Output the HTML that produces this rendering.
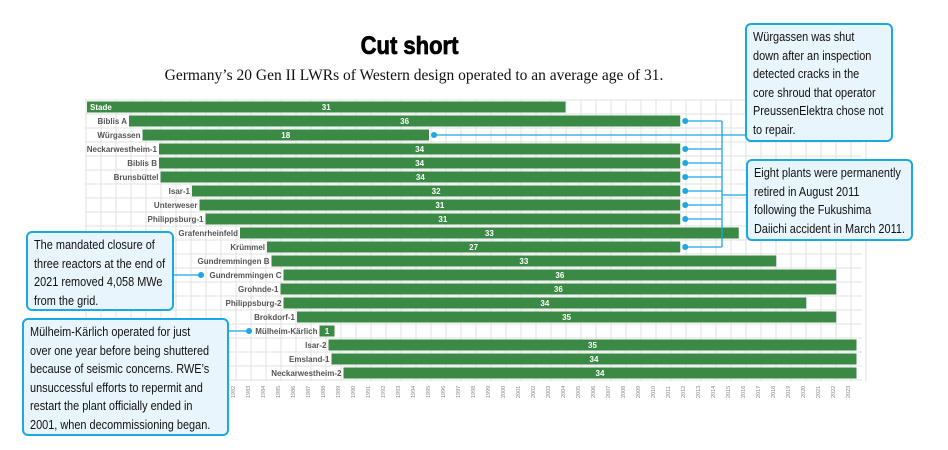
<!DOCTYPE html>
<html><head><meta charset="utf-8">
<style>
html,body{margin:0;padding:0;background:#fff;width:948px;height:450px;overflow:hidden;font-family:"Liberation Sans",sans-serif}
.box{position:absolute;background:#e8f5fc;border:2px solid #1ca8e3;border-radius:6px;box-sizing:border-box;color:#111;overflow:hidden}
.box .in{position:absolute;left:6px;top:3px;font-family:"Liberation Sans",sans-serif;font-size:13px;line-height:18.5px;white-space:nowrap;transform:scaleX(0.84);transform-origin:0 0}
</style></head><body>
<div style="position:absolute;left:0;width:820px;top:32px;text-align:center;"><span style="display:inline-block;font-family:'Liberation Sans',sans-serif;font-weight:900;font-size:25px;color:#000;transform:scaleX(0.88);-webkit-text-stroke:0.8px #000">Cut short</span></div>
<div style="position:absolute;left:0;width:828px;top:67px;text-align:center;font-family:'Liberation Serif',serif;font-size:15.5px;color:#111">Germany’s 20 Gen II LWRs of Western design operated to an average age of 31.</div>
<svg id="chart" width="948" height="450" style="position:absolute;left:0;top:0"></svg>
<div class="box" style="left:745px;top:23px;width:148px;height:119px"><div class="in">Würgassen was shut<br>down after an inspection<br>detected cracks in the<br>core shroud that operator<br>PreussenElektra chose not<br>to repair.</div></div>
<div class="box" style="left:746px;top:159px;width:167px;height:82px"><div class="in">Eight plants were permanently<br>retired in August 2011<br>following the Fukushima<br>Daiichi accident in March 2011.</div></div>
<div class="box" style="left:26px;top:231px;width:148px;height:80px"><div class="in">The mandated closure of<br>three reactors at the end of<br>2021 removed 4,058 MWe<br>from the grid.</div></div>
<div class="box" style="left:22px;top:318px;width:207px;height:118px"><div class="in">Mülheim-Kärlich operated for just<br>over one year before being shuttered<br>because of seismic concerns. RWE’s<br>unsuccessful efforts to repermit and<br>restart the plant officially ended in<br>2001, when decommissioning began.</div></div>
<script>
const plants=["Stade","Biblis A","Würgassen","Neckarwestheim-1","Biblis B","Brunsbüttel","Isar-1","Unterweser","Philippsburg-1","Grafenrheinfeld","Krümmel","Gundremmingen B","Gundremmingen C","Grohnde-1","Philippsburg-2","Brokdorf-1","Mülheim-Kärlich","Isar-2","Emsland-1","Neckarwestheim-2"];
const startYears=[1972.0,1974.8,1975.7,1976.8,1976.8,1976.9,1979.0,1979.5,1979.9,1982.2,1984.0,1984.3,1985.1,1984.9,1985.1,1986.0,1987.5,1988.1,1988.3,1989.1];
const endYears=[2003.9,2011.55,1994.8,2011.55,2011.55,2011.55,2011.55,2011.55,2011.55,2015.45,2011.55,2017.95,2021.95,2021.95,2019.95,2021.95,1988.5,2023.3,2023.3,2023.3];
const ages=[31,36,18,34,34,34,32,31,31,33,27,33,36,36,34,35,1,35,34,34];
const tickYears=[1982,1983,1984,1985,1986,1987,1988,1989,1990,1991,1992,1993,1994,1995,1996,1997,1998,1999,2000,2001,2002,2003,2004,2005,2006,2007,2008,2009,2010,2011,2012,2013,2014,2015,2016,2017,2018,2019,2020,2021,2022,2023];
const fukushimaRows=[1,3,4,5,6,7,8,10];

const NS="http://www.w3.org/2000/svg";
const svg=document.getElementById('chart');
const x=y=>552+(y-2003)*15;
const rowY=i=>107+i*14;
function el(t,a,p){const e=document.createElementNS(NS,t);for(const k in a)e.setAttribute(k,a[k]);(p||svg).appendChild(e);return e;}
const grid=el('g',{});


for(let yr=1972;yr<=2024;yr++){el('line',{x1:x(yr)-1,x2:x(yr)-1,y1:100,y2:381,stroke:'#e2e2e2','stroke-width':1},grid);}
for(let i=0;i<=plants.length;i++){el('line',{x1:85,x2:862,y1:rowY(i)-7,y2:rowY(i)-7,stroke:'#e2e2e2','stroke-width':1},grid);}
plants.forEach((p,i)=>{
  const x0=x(startYears[i]),x1=x(endYears[i]),cy=rowY(i);
  const r=el('rect',{x:x0,y:cy-5.5,width:x1-x0,height:11,fill:'#3a8a45'});
  
  
  const isStade=i===0;
  const lab=el('text',{x:isStade?x0+3:x0-2,y:cy+3,'text-anchor':isStade?'start':'end','font-size':8,'font-weight':'bold',fill:isStade?'#fff':'#555','font-family':'Liberation Sans, sans-serif'});
  lab.textContent=p;
  
  
  const v=el('text',{x:(x0+x1)/2,y:cy+3,'text-anchor':'middle','font-size':8,'font-weight':'bold',fill:'#fff','font-family':'Liberation Sans, sans-serif'});
  v.textContent=ages[i];
  
  
});
tickYears.forEach(yr=>{
  const t=el('text',{transform:`translate(${x(yr)-2},398) rotate(-90)`,'font-size':5.5,fill:'#888','font-family':'Liberation Sans, sans-serif'});
  t.textContent=yr;
  
  
});
const blue='#1ca8e3';
fukushimaRows.forEach(i=>{
  const cy=rowY(i);
  el('line',{x1:x(endYears[i])+4,x2:722,y1:cy,y2:cy,stroke:blue,'stroke-width':1.3});
  const d=el('circle',{cx:x(endYears[i])+5,cy:cy,r:3,fill:blue});
  
  
});
el('line',{x1:722,x2:722,y1:rowY(1),y2:rowY(10),stroke:blue,'stroke-width':1.3});
el('line',{x1:722,x2:746,y1:195,y2:195,stroke:blue,'stroke-width':1.3});
el('line',{x1:x(endYears[2])+4,x2:746,y1:rowY(2),y2:rowY(2),stroke:blue,'stroke-width':1.3});
el('circle',{cx:x(endYears[2])+5,cy:rowY(2),r:3,fill:blue});
el('line',{x1:173,x2:201,y1:rowY(12),y2:rowY(12),stroke:blue,'stroke-width':1.3});
el('circle',{cx:201,cy:rowY(12),r:3,fill:blue});
el('line',{x1:228,x2:249,y1:rowY(16),y2:rowY(16),stroke:blue,'stroke-width':1.3});
el('circle',{cx:249,cy:rowY(16),r:3,fill:blue});
</script>
</body></html>
